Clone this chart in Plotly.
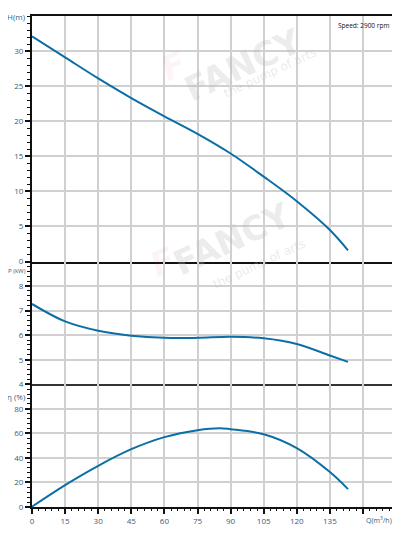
import plotly.graph_objects as go
from plotly.subplots import make_subplots

# Flow (m3/h)
q_pts = [0, 15, 30, 45, 60, 75, 90, 105, 120, 135, 143.2]
head = [32.1, 29.1, 26.1, 23.3, 20.7, 18.2, 15.4, 12.1, 8.6, 4.5, 1.6]
power = [7.27, 6.56, 6.18, 5.98, 5.89, 5.89, 5.93, 5.87, 5.64, 5.17, 4.91]
eff_q = [0, 15, 30, 45, 60, 75, 85, 90, 105, 120, 135, 143.2]
eff = [0.3, 17.9, 33.6, 47.1, 56.9, 62.6, 64.2, 63.4, 59.3, 48.0, 28.5, 14.6]

x_ticks = [0, 15, 30, 45, 60, 75, 90, 105, 120, 135, 150]
x_labels = ["0", "15", "30", "45", "60", "75", "90", "105", "120", "135", " "]
h_ticks = [0, 5, 10, 15, 20, 25, 30]
p_ticks = [4, 5, 6, 7, 8]
e_ticks = [0, 20, 40, 60, 80]

CURVE = "#0b6fa6"
GRID = "#d0d0d0"
TICKC = "#3b5b78"
FONT = "Open Sans"

fig = make_subplots(rows=3, cols=1, shared_xaxes=True, vertical_spacing=0,
                    row_heights=[2, 1, 1])

fig.add_trace(go.Scatter(x=q_pts, y=head, mode="lines", line=dict(color=CURVE, width=2, shape="spline"),
                         hoverinfo="skip"), row=1, col=1)
fig.add_trace(go.Scatter(x=q_pts, y=power, mode="lines", line=dict(color=CURVE, width=2, shape="spline"),
                         hoverinfo="skip"), row=2, col=1)
fig.add_trace(go.Scatter(x=eff_q, y=eff, mode="lines", line=dict(color=CURVE, width=2, shape="spline"),
                         hoverinfo="skip"), row=3, col=1)

common_x = dict(range=[0, 164.5], tickvals=x_ticks, ticktext=x_labels, showgrid=True,
                gridcolor=GRID, gridwidth=2, zeroline=False,
                tickfont=dict(family=FONT, size=8, color=TICKC))
for r in (1, 2, 3):
    fig.update_xaxes(**common_x, row=r, col=1)
fig.update_xaxes(showline=True, linecolor="#111", linewidth=2, mirror=True, ticks="", showticklabels=False,
                 row=1, col=1)
fig.update_xaxes(showline=True, linecolor="#333", linewidth=1.5, mirror=False, ticks="", showticklabels=False,
                 row=2, col=1)
fig.update_xaxes(showline=True, linecolor="#111", linewidth=2, mirror=False, ticks="outside", ticklen=5,
                 tickwidth=2, tickcolor="#111",
                 minor=dict(dtick=3, tick0=0, ticklen=2, tickwidth=1, tickcolor="#111", ticks="outside",
                            showgrid=False),
                 row=3, col=1)

common_y = dict(showgrid=True, gridcolor=GRID, gridwidth=2, showline=True, linecolor="#111",
                linewidth=2, mirror=True, zeroline=False, ticks="outside", ticklen=5, tickwidth=2,
                tickcolor="#111", tickfont=dict(family=FONT, size=8, color=TICKC))
fig.update_yaxes(**common_y, range=[0, 35], tickvals=h_ticks,
                 minor=dict(dtick=1, ticklen=3, tickwidth=1, tickcolor="#111", ticks="outside", showgrid=False),
                 row=1, col=1)
fig.update_yaxes(**common_y, range=[4, 9], tickvals=p_ticks,
                 minor=dict(dtick=0.2, tick0=4, ticklen=3, tickwidth=1, tickcolor="#111", ticks="outside",
                            showgrid=False),
                 row=2, col=1)
fig.update_yaxes(**common_y, range=[0, 100], tickvals=e_ticks,
                 minor=dict(dtick=4, ticklen=3, tickwidth=1, tickcolor="#111", ticks="outside", showgrid=False),
                 row=3, col=1)

ann = []
# Axis titles
ann.append(dict(text="H(m)", xref="paper", x=-0.012, xanchor="right", yref="y domain", y=1.0,
                yanchor="middle", showarrow=False, font=dict(family=FONT, size=8, color=TICKC)))
ann.append(dict(text="P (kW)", xref="paper", x=-0.07, xanchor="left", yref="y2 domain", y=0.965,
                yanchor="top", showarrow=False, borderpad=0, font=dict(family=FONT, size=6, color=TICKC)))
ann.append(dict(text="η (%)", xref="paper", x=-0.012, xanchor="right", yref="y3 domain", y=0.965,
                yanchor="top", showarrow=False, font=dict(family=FONT, size=8, color=TICKC)))
ann.append(dict(text="Q(m<sup>3</sup>/h)", xref="x3", x=150.3, xanchor="left", yref="paper", y=-0.012,
                yanchor="top", showarrow=False, font=dict(family=FONT, size=7, color=TICKC)))
ann.append(dict(text="Speed: 2900 rpm", xref="paper", x=0.99, xanchor="right", yref="paper", y=0.993,
                yanchor="top", showarrow=False, font=dict(family=FONT, size=6.5, color="#111")))
# Watermarks
for wx, wy in ((0.58, 0.995), (0.55, 0.545)):
    ann.append(dict(text="<b>FANCY</b>", xref="paper", x=wx, yref="paper", y=wy, showarrow=False,
                    textangle=-25, font=dict(family="DejaVu Sans", size=34, color="rgba(190,190,190,0.30)")))
    ann.append(dict(text="the pump of arts", xref="paper", x=wx + 0.075, yref="paper", y=wy - 0.05,
                    showarrow=False, textangle=-25,
                    font=dict(family="DejaVu Sans", size=12, color="rgba(190,190,190,0.32)")))
    ann.append(dict(text="<b><i>F</i></b>", xref="paper", x=wx - 0.25, yref="paper", y=wy - 0.045,
                    showarrow=False, textangle=-25,
                    font=dict(family="DejaVu Sans", size=34, color="rgba(230,110,110,0.08)")))

fig.update_layout(width=392, height=526, margin=dict(l=24, r=5, t=8, b=27, autoexpand=False),
                  plot_bgcolor="white", paper_bgcolor="white", showlegend=False, annotations=ann,
                  font=dict(family=FONT))

fig.write_html("out.html")
